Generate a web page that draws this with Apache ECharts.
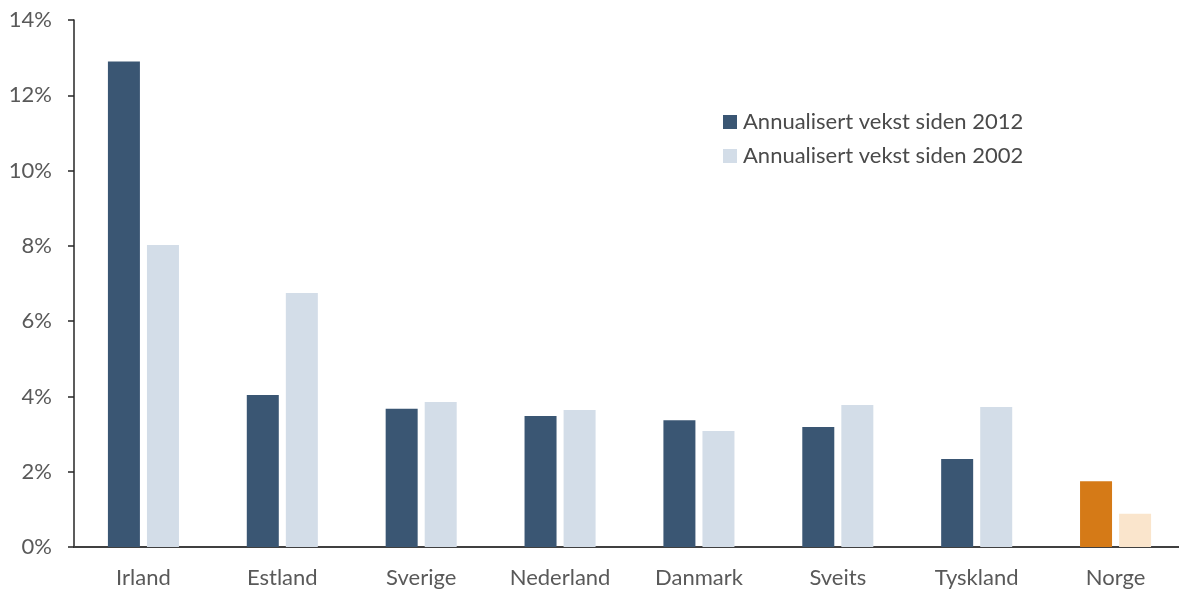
<!DOCTYPE html>
<html><head><meta charset="utf-8">
<script src="https://cdn.jsdelivr.net/npm/echarts@6/dist/echarts.min.js"></script>
<style>html,body{margin:0;padding:0;background:#fff;overflow:hidden}#c{width:1200px;height:590px}</style>
</head><body><div id="c"></div>
<script>
const categories = ['Irland','Estland','Sverige','Nederland','Danmark','Sveits','Tyskland','Norge'];
const since2012 = [12.9, 4.04, 3.67, 3.48, 3.37, 3.19, 2.34, 1.75];
const since2002 = [8.02, 6.75, 3.85, 3.64, 3.08, 3.77, 3.72, 0.88];
const seriesNames = ['Annualisert vekst siden 2012','Annualisert vekst siden 2002'];
const yTicks = [0, 2, 4, 6, 8, 10, 12, 14];

const dark = '#3A5673', light = '#D3DDE8', orange = '#D57A17', lightOrange = '#FAE5CC';
const font = 'Lato, "Open Sans", sans-serif';
const chart = echarts.init(document.getElementById('c'), null, {renderer:'canvas'});
chart.setOption({
  animation:false,
  textStyle:{fontFamily:font},
  grid:{left:74, width:1111, top:20, height:527, containLabel:false},
  legend:{
    orient:'vertical', left:718, top:106, itemWidth:14, itemHeight:14, itemGap:12,
    icon:'rect',
    textStyle:{fontSize:22, color:'#4a4a4a', fontFamily:font, padding:[0,0,0,1]},
    data:[{name:seriesNames[0], itemStyle:{color:dark}},{name:seriesNames[1], itemStyle:{color:light}}]
  },
  xAxis:{
    type:'category', data:categories,
    axisLine:{lineStyle:{color:'#404040', width:2}},
    axisTick:{show:false},
    axisLabel:{fontSize:22, color:'#595959', margin:20, fontFamily:font}
  },
  yAxis:{
    type:'value', min:yTicks[0], max:yTicks[yTicks.length-1], interval:2,
    splitLine:{show:false},
    axisLine:{show:true, lineStyle:{color:'#262626', width:1.5}},
    axisTick:{show:true, length:6, lineStyle:{color:'#262626', width:1.5}},
    axisLabel:{fontSize:22, color:'#595959', margin:22, fontFamily:font, formatter: v => v + '%'}
  },
  series:[
    {name:seriesNames[0], type:'bar', barWidth:32, barGap:'22%',
     data: since2012.map((v,i)=> ({value:v, itemStyle:{color: categories[i]==='Norge'?orange:dark}}))},
    {name:seriesNames[1], type:'bar', barWidth:32,
     data: since2002.map((v,i)=> ({value:v, itemStyle:{color: categories[i]==='Norge'?lightOrange:light}}))}
  ]
});
</script></body></html>
